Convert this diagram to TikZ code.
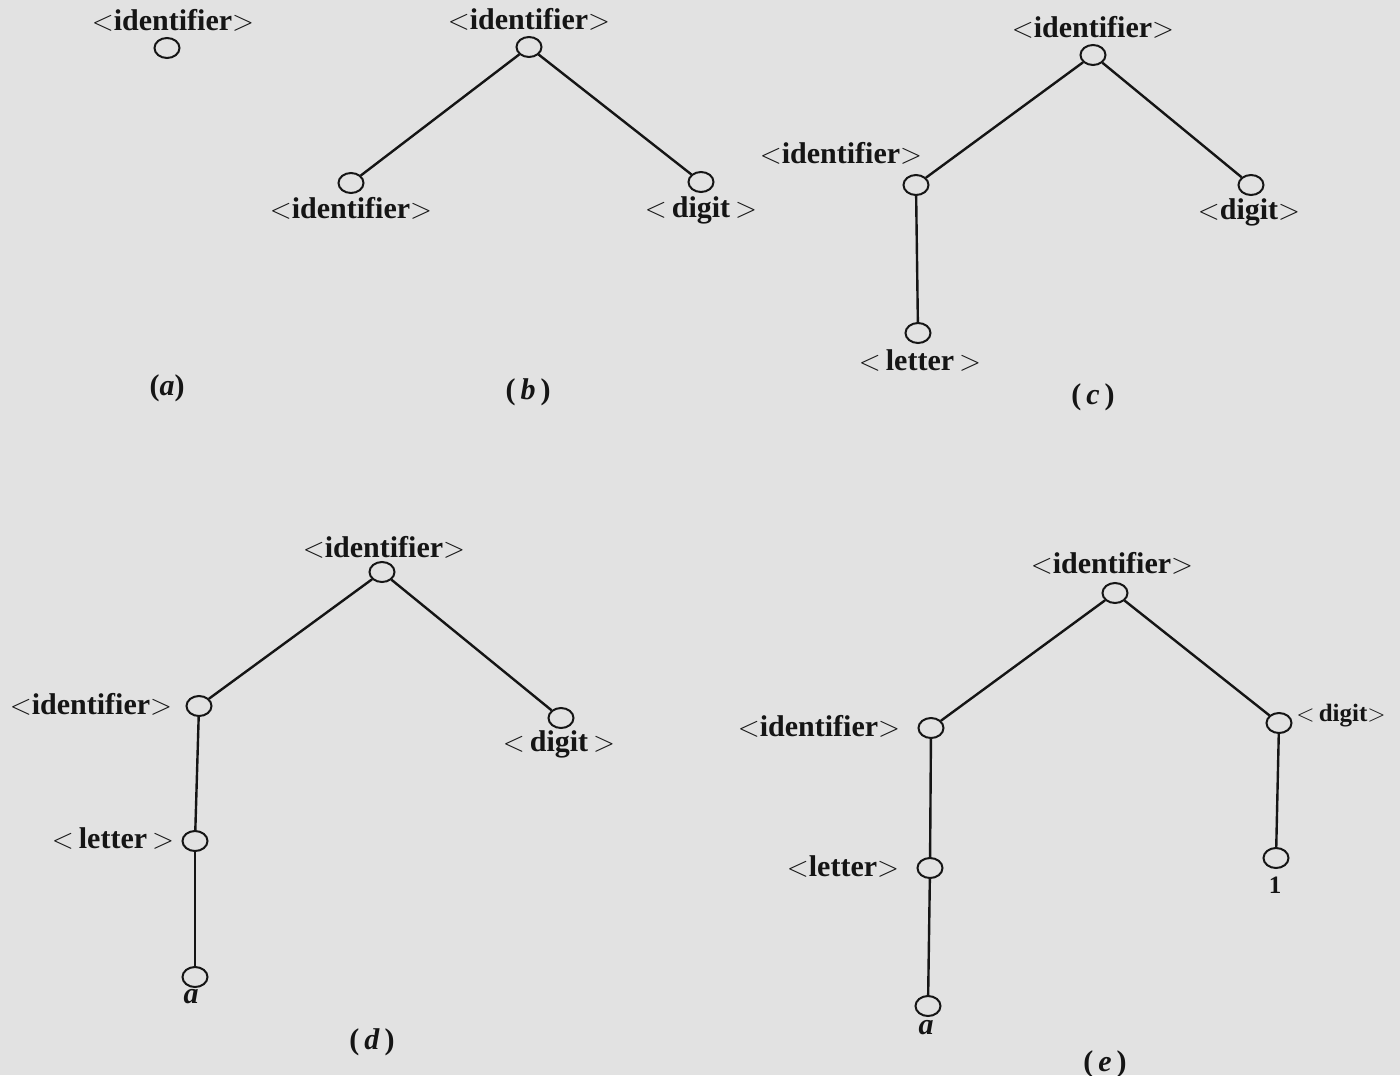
\documentclass[tikz,border=0pt]{standalone}
\usepackage{fontspec}
\setmainfont{Liberation Serif}
\usetikzlibrary{shapes.geometric}
\definecolor{paper}{HTML}{E2E2E2}
\definecolor{ink}{HTML}{151515}
% angle brackets drawn as relation symbols
\newcommand{\lb}{$<$}
\newcommand{\rb}{$>$}
\tikzset{
  vert/.style={ellipse, draw=ink, line width=1pt, minimum width=12.5pt, minimum height=10pt, inner sep=0pt},
  lab/.style={text=ink, font=\fontsize{15}{18}\selectfont\bfseries, inner sep=0pt},
  small lab/.style={lab, font=\fontsize{12.5}{15}\selectfont\bfseries},
  caption/.style={text=ink, font=\fontsize{15}{17}\selectfont\bfseries, inner sep=0pt},
  edge/.style={draw=ink, line width=1.2pt}
}
\begin{document}
\begin{tikzpicture}[x=0.5pt, y=-0.5pt]
\fill[paper] (0,0) rectangle (1400,1075);
\useasboundingbox (0,0) rectangle (1400,1075);

% (a) single root
\node[vert] (a0) at (167,48) {};
\node[lab] (a0l) at (173,20) {\lb identifier\rb};
\node[caption] (acap) at (167,388) {(\textit{a})};

% (b) root with two children
\node[vert] (b0) at (529,47) {};
\node[lab] (b0l) at (529,19) {\lb identifier\rb};
\node[vert] (b1) at (351,183) {};
\node[lab] (b1l) at (351,208) {\lb identifier\rb};
\node[vert] (b2) at (701,182) {};
\node[lab] (b2l) at (701,210) {\lb\,digit\,\rb};
\draw[edge] (b0) -- (b1);
\draw[edge] (b0) -- (b2);
\node[caption] (bcap) at (528,392) {(\,\textit{b}\,)};

% (c) left child expanded to a letter
\node[vert] (c0) at (1093,55) {};
\node[lab] (c0l) at (1093,27) {\lb identifier\rb};
\node[vert] (c1) at (916,185) {};
\node[lab] (c1l) at (841,153) {\lb identifier\rb};
\node[vert] (c2) at (1251,185) {};
\node[lab] (c2l) at (1249,212) {\lb digit\rb};
\node[vert] (c3) at (918,333) {};
\node[lab] (c3l) at (920,360) {\lb\,letter\,\rb};
\draw[edge] (c0) -- (c1);
\draw[edge] (c0) -- (c2);
\draw[edge] (c1) -- (c3);
\node[caption] (ccap) at (1093,397) {(\,\textit{c}\,)};

% (d) letter expanded to a
\node[vert] (d0) at (382,572) {};
\node[lab] (d0l) at (384,547) {\lb identifier\rb};
\node[vert] (d1) at (199,706) {};
\node[lab] (d1l) at (91,704) {\lb identifier\rb};
\node[vert] (d2) at (561,718) {};
\node[lab] (d2l) at (559,744) {\lb\,digit\,\rb};
\node[vert] (d3) at (195,841) {};
\node[lab] (d3l) at (113,838) {\lb\,letter\,\rb};
\node[vert] (d4) at (195,977) {};
\node[lab] (d4l) at (191,997) {\textit{a}};
\draw[edge] (d0) -- (d1);
\draw[edge] (d0) -- (d2);
\draw[edge] (d1) -- (d3);
\draw[edge] (d3) -- (d4);
\node[caption] (dcap) at (372,1042) {(\,\textit{d}\,)};

% (e) complete tree for a1
\node[vert] (e0) at (1115,593) {};
\node[lab] (e0l) at (1112,563) {\lb identifier\rb};
\node[vert] (e1) at (931,728) {};
\node[lab] (e1l) at (819,726) {\lb identifier\rb};
\node[vert] (e2) at (1279,723) {};
\node[small lab] (e2l) at (1341,716) {\lb\,digit\rb};
\node[vert] (e3) at (930,868) {};
\node[lab] (e3l) at (843,866) {\lb letter\rb};
\node[vert] (e4) at (928,1006) {};
\node[lab] (e4l) at (926,1028) {\textit{a}};
\node[vert] (e5) at (1276,858) {};
\node[small lab] (e5l) at (1275,885) {1};
\draw[edge] (e0) -- (e1);
\draw[edge] (e0) -- (e2);
\draw[edge] (e1) -- (e3);
\draw[edge] (e3) -- (e4);
\draw[edge] (e2) -- (e5);
\node[caption] (ecap) at (1105,1064) {(\,\textit{e}\,)};
\end{tikzpicture}
\end{document}
